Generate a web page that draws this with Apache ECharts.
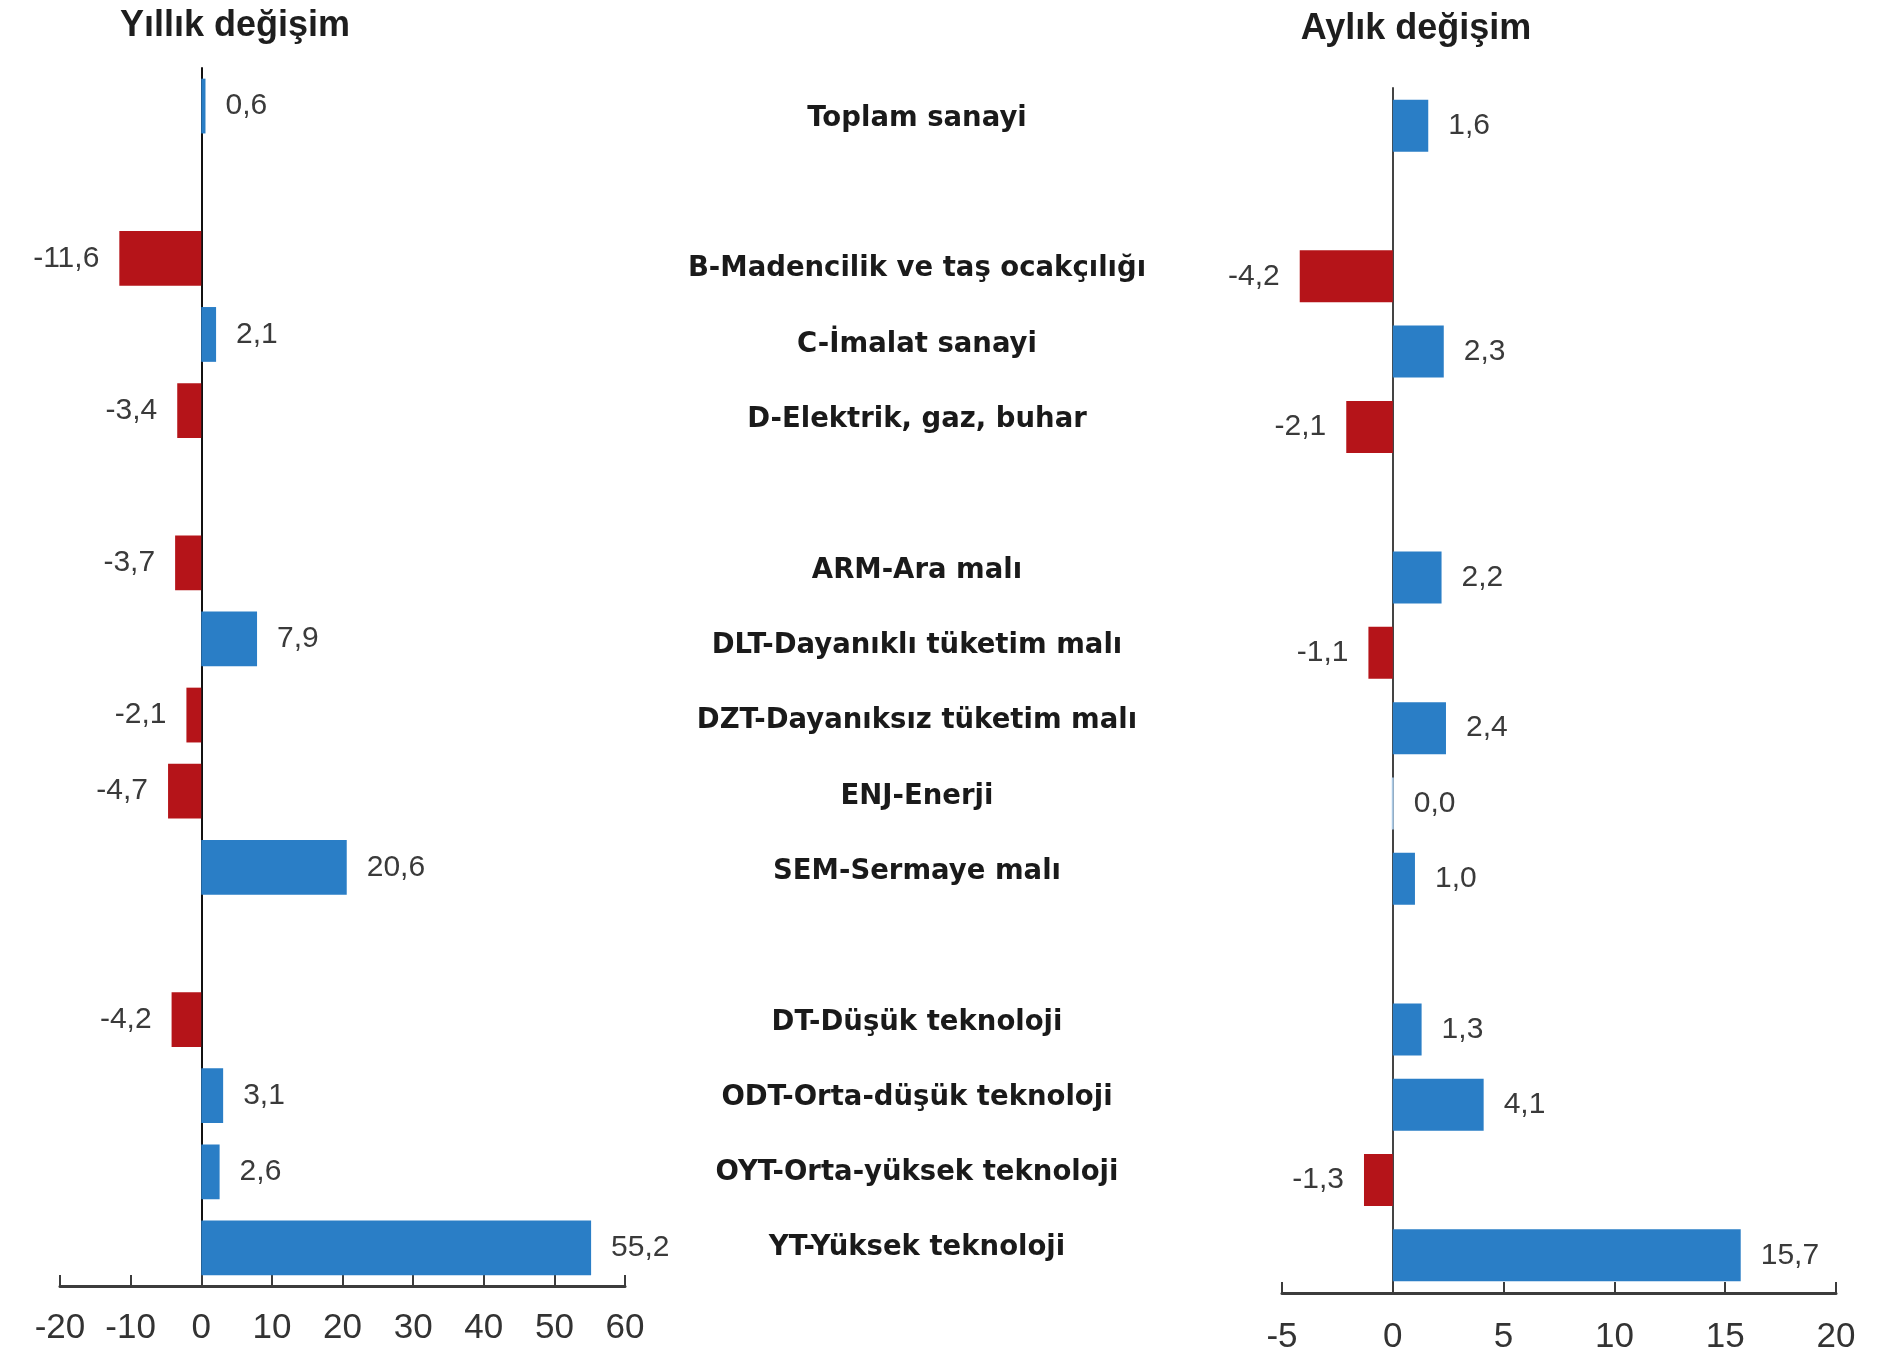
<!DOCTYPE html>
<html>
<head>
<meta charset="utf-8">
<script src="https://cdn.jsdelivr.net/npm/echarts@6/dist/echarts.min.js"></script>
<style>
html,body{margin:0;padding:0;background:#fff;}
#c{width:1894px;height:1355px;}
</style>
</head>
<body>
<div id="c"></div>
<script>
// ---- data ----
const categories = [
  'Toplam sanayi', ' ',
  'B-Madencilik ve taş ocakçılığı', 'C-İmalat sanayi', 'D-Elektrik, gaz, buhar', '  ',
  'ARM-Ara malı', 'DLT-Dayanıklı tüketim malı', 'DZT-Dayanıksız tüketim malı', 'ENJ-Enerji', 'SEM-Sermaye malı', '   ',
  'DT-Düşük teknoloji', 'ODT-Orta-düşük teknoloji', 'OYT-Orta-yüksek teknoloji', 'YT-Yüksek teknoloji'
];
const annualChange = [0.6, null, -11.6, 2.1, -3.4, null, -3.7, 7.9, -2.1, -4.7, 20.6, null, -4.2, 3.1, 2.6, 55.2];
const monthlyChange = [1.6, null, -4.2, 2.3, -2.1, null, 2.2, -1.1, 2.4, 0.0, 1.0, null, 1.3, 4.1, -1.3, 15.7];
const titles = ['Yıllık değişim', 'Aylık değişim'];

const BLUE = '#2a7ec6';
const RED = '#b51419';
const ZERO = '#a9c8e4';

function toItems(arr) {
  return arr.map(v => {
    if (v === null) return '-';
    const item = {
      value: v,
      itemStyle: { color: v > 0 ? BLUE : (v < 0 ? RED : ZERO) },
      label: { position: v < 0 ? 'left' : 'right' }
    };
    if (v === 0) item.itemStyle = { color: ZERO, borderColor: ZERO, borderWidth: 2 };
    return item;
  });
}
const fmt = p => (typeof p.value === 'number') ? p.value.toFixed(1).replace('.', ',') : '';

const numFont = 'Liberation Sans, Arial, sans-serif';
const labelStyle = { show: true, formatter: fmt, fontFamily: numFont, fontSize: 30, color: '#3a3a3a', distance: 20 };

const chart = echarts.init(document.getElementById('c'), null, { renderer: 'canvas' });
chart.setOption({
  animation: false,
  backgroundColor: '#fff',
  title: [
    { text: titles[0], left: 230, top: 3, textAlign: 'center',
      textStyle: { fontFamily: numFont, fontSize: 36, fontWeight: 'bold', color: '#1e1e1e' } },
    { text: titles[1], left: 1411, top: 6, textAlign: 'center',
      textStyle: { fontFamily: numFont, fontSize: 36, fontWeight: 'bold', color: '#1e1e1e' } }
  ],
  grid: [
    { left: 60, width: 565, top: 68, height: 1218 },
    { left: 917, width: 10, top: 81, height: 1205 },
    { left: 1282, width: 554, top: 88, height: 1216 }
  ],
  xAxis: [
    { type: 'value', gridIndex: 0, min: -20, max: 60, interval: 10,
      axisLine: { show: true, lineStyle: { color: '#3c3c3c', width: 3 } },
      axisTick: { show: true, inside: true, length: 11, lineStyle: { color: '#3c3c3c', width: 2 } },
      splitLine: { show: false },
      axisLabel: { fontFamily: numFont, fontSize: 35, color: '#333', margin: 25 } },
    { type: 'value', gridIndex: 1, show: false },
    { type: 'value', gridIndex: 2, min: -5, max: 20, interval: 5,
      axisLine: { show: true, lineStyle: { color: '#3c3c3c', width: 3 } },
      axisTick: { show: true, inside: true, length: 11, lineStyle: { color: '#3c3c3c', width: 2 } },
      splitLine: { show: false },
      axisLabel: { fontFamily: numFont, fontSize: 35, color: '#333', margin: 27 } }
  ],
  yAxis: [
    { type: 'category', gridIndex: 0, data: categories, inverse: true,
      axisLine: { show: true, onZero: true, lineStyle: { color: '#111', width: 2 } },
      axisTick: { show: false }, axisLabel: { show: false } },
    { type: 'category', gridIndex: 1, data: categories, inverse: true,
      axisLine: { show: false }, axisTick: { show: false }, splitLine: { show: false },
      axisLabel: { show: true, align: 'center', margin: 0, interval: 0,
        fontFamily: 'DejaVu Sans, Verdana, sans-serif', fontWeight: 'bold', fontSize: 27.5, color: '#1a1a1a' } },
    { type: 'category', gridIndex: 2, data: categories, inverse: true,
      axisLine: { show: true, onZero: true, lineStyle: { color: '#444', width: 2 } },
      axisTick: { show: false }, axisLabel: { show: false } }
  ],
  series: [
    { type: 'bar', xAxisIndex: 0, yAxisIndex: 0, data: toItems(annualChange),
      barWidth: '72%', label: labelStyle },
    { type: 'bar', xAxisIndex: 2, yAxisIndex: 2, data: toItems(monthlyChange),
      barWidth: '69%', label: labelStyle }
  ]
});
</script>
</body>
</html>
